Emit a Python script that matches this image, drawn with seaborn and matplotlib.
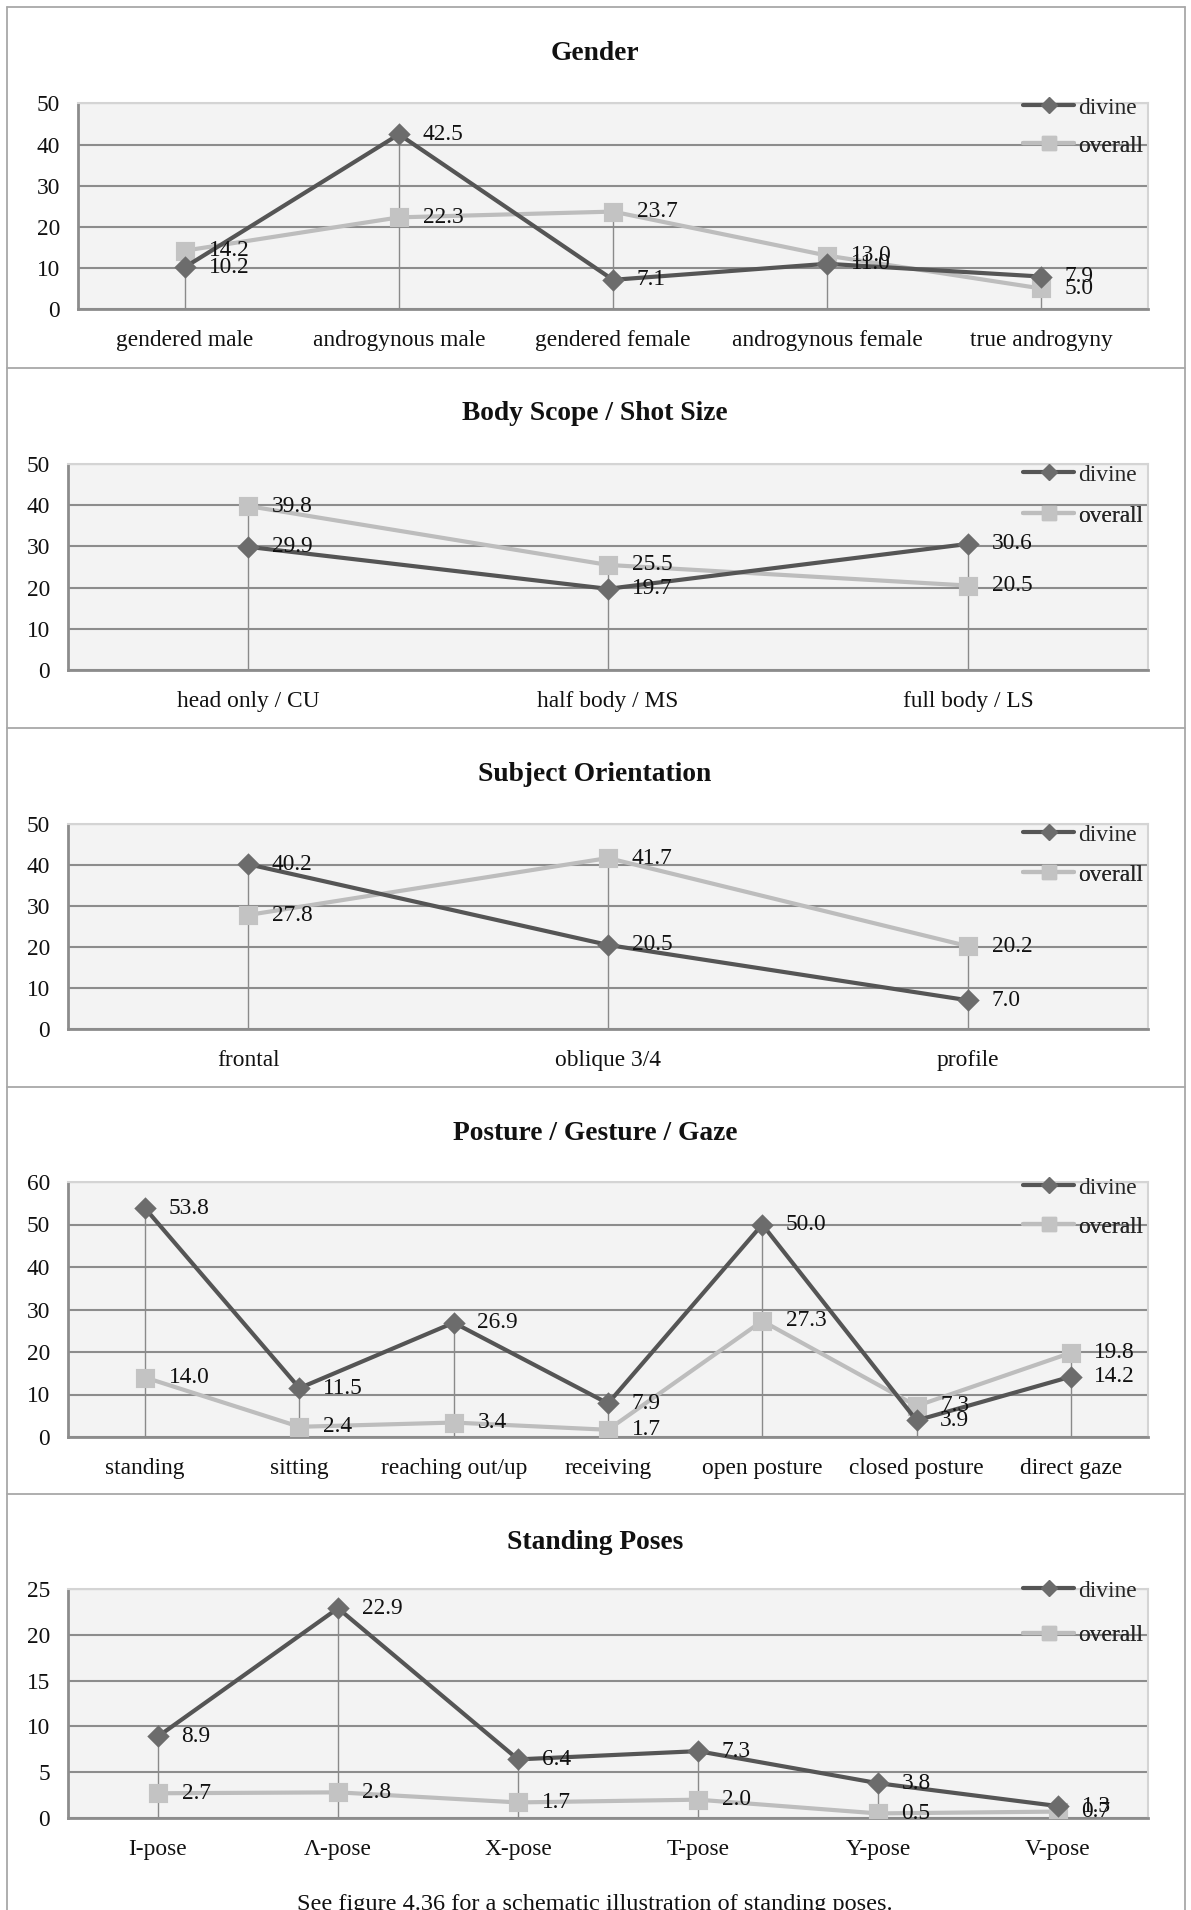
import matplotlib
matplotlib.use("Agg")
import matplotlib.pyplot as plt
from matplotlib.lines import Line2D
import seaborn as sns
import pandas as pd

# ---- data -------------------------------------------------------------
gender_cats = ["gendered male", "androgynous male", "gendered female",
               "androgynous female", "true androgyny"]
gender_divine = [10.2, 42.5, 7.1, 11.0, 7.9]
gender_overall = [14.2, 22.3, 23.7, 13.0, 5.0]

scope_cats = ["head only / CU", "half body / MS", "full body / LS"]
scope_divine = [29.9, 19.7, 30.6]
scope_overall = [39.8, 25.5, 20.5]

orient_cats = ["frontal", "oblique 3/4", "profile"]
orient_divine = [40.2, 20.5, 7.0]
orient_overall = [27.8, 41.7, 20.2]

posture_cats = ["standing", "sitting", "reaching out/up", "receiving",
                "open posture", "closed posture", "direct gaze"]
posture_divine = [53.8, 11.5, 26.9, 7.9, 50.0, 3.9, 14.2]
posture_overall = [14.0, 2.4, 3.4, 1.7, 27.3, 7.3, 19.8]

pose_cats = ["I-pose", "Λ-pose", "X-pose", "T-pose", "Y-pose", "V-pose"]
pose_divine = [8.9, 22.9, 6.4, 7.3, 3.8, 1.3]
pose_overall = [2.7, 2.8, 1.7, 2.0, 0.5, 0.7]

series_names = ["divine", "overall"]
caption = "See figure 4.36 for a schematic illustration of standing poses."

# ---- style ------------------------------------------------------------
sns.set_theme(style="white")
plt.rcParams["font.family"] = ["Liberation Serif", "DejaVu Serif"]

W, H = 1191, 1910
DIV_LINE, DIV_MARK = "#555555", "#6c6c6c"
OVR_LINE, OVR_MARK = "#bdbdbd", "#c3c3c3"
GRID = "#8c8c8c"
BG = "#f3f3f3"
FS = 16.8

fig = plt.figure(figsize=(W / 100, H / 100), dpi=100)
fig.patch.set_facecolor("white")


def add_panel(title, cats, divine, overall, yticks, box, title_y, legend_ys):
    left, right, top, bottom = box
    ax = fig.add_axes([left / W, 1 - bottom / H, (right - left) / W, (bottom - top) / H])
    df = pd.DataFrame({
        "category": cats * 2,
        "value": list(divine) + list(overall),
        "series": ["divine"] * len(cats) + ["overall"] * len(cats),
    })
    sns.pointplot(data=df, x="category", y="value", hue="series",
                  order=cats, hue_order=series_names,
                  palette={"divine": DIV_LINE, "overall": OVR_LINE},
                  markers=["D", "s"], linestyles=["-", "-"],
                  errorbar=None, dodge=False, ax=ax, legend=False,
                  linewidth=3.0)
    for ln in ax.lines:
        c = matplotlib.colors.to_hex(ln.get_color())
        if c == DIV_LINE:
            ln.set_markerfacecolor(DIV_MARK)
            ln.set_markeredgecolor(DIV_MARK)
            ln.set_markersize(9)
            ln.set_zorder(4)
        else:
            ln.set_markerfacecolor(OVR_MARK)
            ln.set_markeredgecolor(OVR_MARK)
            ln.set_markersize(11)
            ln.set_zorder(3)

    n = len(cats)
    xs = list(range(n))
    # drop lines from the higher series value to the axis
    tops = [max(a, b) for a, b in zip(divine, overall)]
    ax.vlines(xs, 0, tops, colors="#8a8a8a", linewidth=1.0, zorder=1.5)

    # value labels
    for vals in (divine, overall):
        for x, v in zip(xs, vals):
            ax.annotate(f"{v:.1f}", (x, v), xytext=(17, 0),
                        textcoords="offset points", ha="left", va="center",
                        fontsize=FS, color="#111111", zorder=5)

    ax.set_xlim(-0.5, n - 0.5)
    ax.set_ylim(yticks[0], yticks[-1])
    ax.set_yticks(yticks)
    ax.set_facecolor(BG)
    ax.set_axisbelow(True)
    ax.yaxis.grid(True, color=GRID, linewidth=1.5)
    ax.xaxis.grid(False)
    ax.set_xlabel("")
    ax.set_ylabel("")
    ax.tick_params(axis="both", length=0, labelsize=FS, colors="#111111")
    ax.tick_params(axis="y", pad=13)
    ax.tick_params(axis="x", pad=15)
    for s in ("left", "bottom"):
        ax.spines[s].set_color("#8c8c8c")
        ax.spines[s].set_linewidth(2.0)
    for s in ("top", "right"):
        ax.spines[s].set_color("#d4d4d4")
        ax.spines[s].set_linewidth(1.5)

    handles = [
        Line2D([], [], color=DIV_LINE, lw=3.0, marker="D", markersize=8,
               markerfacecolor=DIV_MARK, markeredgecolor=DIV_MARK),
        Line2D([], [], color=OVR_LINE, lw=3.0, marker="s", markersize=10,
               markerfacecolor=OVR_MARK, markeredgecolor=OVR_MARK),
    ]
    for h, name, ly in zip(handles, series_names, legend_ys):
        leg = ax.legend(handles=[h], labels=[name], loc="center left",
                        bbox_to_anchor=(1023 / W, 1 - ly / H),
                        bbox_transform=fig.transFigure, frameon=False,
                        fontsize=FS, handlelength=2.2, handletextpad=0.15,
                        borderpad=0, borderaxespad=0)
        ax.add_artist(leg)

    fig.text(595 / W, 1 - title_y / H, title, ha="center", va="center",
             fontsize=19.8, fontweight="bold", color="#111111")
    return ax


add_panel("Gender", gender_cats, gender_divine, gender_overall,
          [0, 10, 20, 30, 40, 50], (78, 1148, 103.5, 309), 53, (108, 146))
add_panel("Body Scope / Shot Size", scope_cats, scope_divine, scope_overall,
          [0, 10, 20, 30, 40, 50], (68, 1148, 464, 670), 414, (475, 516))
add_panel("Subject Orientation", orient_cats, orient_divine, orient_overall,
          [0, 10, 20, 30, 40, 50], (68, 1148, 824, 1029), 774, (835, 875))
add_panel("Posture / Gesture / Gaze", posture_cats, posture_divine, posture_overall,
          [0, 10, 20, 30, 40, 50, 60], (68, 1148, 1182, 1437), 1134, (1188, 1227))
add_panel("Standing Poses", pose_cats, pose_divine, pose_overall,
          [0, 5, 10, 15, 20, 25], (68, 1148, 1589, 1818), 1542, (1591, 1635))

# outer frame and panel separators
frame_kw = dict(transform=fig.transFigure, color="#a8a8a8", linewidth=1.3)
fig.add_artist(Line2D([7 / W, 7 / W], [0, 1 - 7 / H], **frame_kw))
fig.add_artist(Line2D([1185 / W, 1185 / W], [0, 1 - 7 / H], **frame_kw))
fig.add_artist(Line2D([7 / W, 1185 / W], [1 - 7 / H, 1 - 7 / H], **frame_kw))
for sy in (368, 728, 1087, 1494):
    fig.add_artist(Line2D([7 / W, 1185 / W], [1 - sy / H, 1 - sy / H], **frame_kw))

fig.text(595 / W, 1 - 1904 / H, caption, ha="center", va="center",
         fontsize=FS + 0.7, color="#111111")

fig.savefig("out.png", dpi=100, facecolor="white")
